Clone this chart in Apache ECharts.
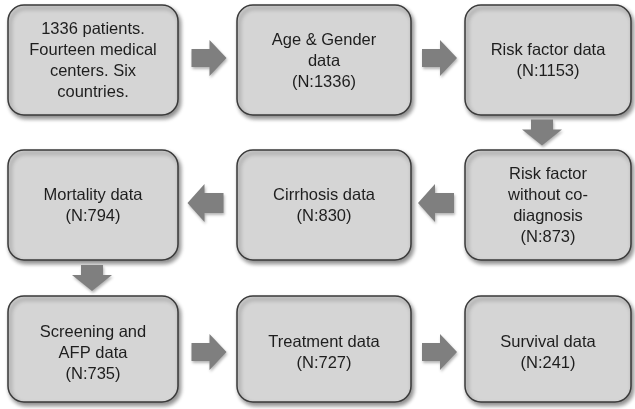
<!DOCTYPE html>
<head>
    <title>ECharts</title>
    <script src="https://cdn.jsdelivr.net/npm/echarts@6/dist/echarts.min.js"></script>
</head>
<body style="margin:0;background:#fff">
    <div id="main" style="width:635px;height:409px"></div>
    <script type="text/javascript">
        // box texts, in grid order (row, col)
        var boxTexts = [
            ['1336 patients.\nFourteen medical\ncenters. Six\ncountries.', 'Age & Gender\ndata\n(N:1336)', 'Risk factor data\n(N:1153)'],
            ['Mortality data\n(N:794)', 'Cirrhosis data\n(N:830)', 'Risk factor\nwithout co-\ndiagnosis\n(N:873)'],
            ['Screening and\nAFP data\n(N:735)', 'Treatment data\n(N:727)', 'Survival data\n(N:241)']
        ];
        // flow: [fromRow, fromCol, toRow, toCol]
        var flow = [
            [0, 0, 0, 1], [0, 1, 0, 2], [0, 2, 1, 2],
            [1, 2, 1, 1], [1, 1, 1, 0], [1, 0, 2, 0],
            [2, 0, 2, 1], [2, 1, 2, 2]
        ];

        var colX = [8, 237, 465], colW = [170, 174, 166];
        var rowY = [5, 150, 296], rowH = [110, 110, 106];
        var rowShift = [0, 0, 3];   // text sits a bit low in the last row

        var myChart = echarts.init(document.getElementById('main'));
        var elements = [];

        for (var r = 0; r < 3; r++) {
            for (var c = 0; c < 3; c++) {
                elements.push({
                    type: 'rect',
                    shape: {x: colX[c], y: rowY[r], width: colW[c], height: rowH[r], r: 16},
                    style: {
                        fill: '#d5d5d5', stroke: '#3a3a3a', lineWidth: 1.5,
                        shadowBlur: 4, shadowOffsetX: 2, shadowOffsetY: 3, shadowColor: 'rgba(0,0,0,0.45)'
                    }
                });
                elements.push({
                    type: 'text',
                    x: colX[c] + colW[c] / 2,
                    y: rowY[r] + rowH[r] / 2 + 1 + rowShift[r],
                    style: {
                        text: boxTexts[r][c], fill: '#1e1e1e',
                        font: '16.5px "Liberation Sans", Arial, sans-serif',
                        lineHeight: 21, align: 'center', verticalAlign: 'middle'
                    }
                });
            }
        }

        function arrowPoints(dir, cx, cy) {
            if (dir === 'right') {
                return [[cx - 17, cy - 9], [cx + 1, cy - 9], [cx + 1, cy - 18], [cx + 18, cy], [cx + 1, cy + 18], [cx + 1, cy + 9], [cx - 17, cy + 9]];
            }
            if (dir === 'left') {
                return [[cx + 18, cy - 10], [cx - 1, cy - 10], [cx - 1, cy - 19], [cx - 18, cy], [cx - 1, cy + 19], [cx - 1, cy + 10], [cx + 18, cy + 10]];
            }
            return [[cx - 11, cy - 13], [cx + 11, cy - 13], [cx + 11, cy - 3], [cx + 20, cy - 3], [cx, cy + 13], [cx - 20, cy - 3], [cx - 11, cy - 3]];
        }

        flow.forEach(function (f) {
            var dir, cx, cy;
            if (f[0] === f[2]) {
                var rr = f[0];
                cy = rowY[rr] + rowH[rr] / 2 - 2 + rowShift[rr] + (rr === 2 ? 2 : 0);
                var a = Math.min(f[1], f[3]), b = Math.max(f[1], f[3]);
                dir = f[3] > f[1] ? 'right' : 'left';
                cx = (colX[a] + colW[a] + colX[b]) / 2 + (dir === 'right' ? 1 : -2);
            } else {
                var cc = f[1];
                cx = colX[cc] + colW[cc] / 2 - 1 - (cc === 2 ? 5 : 0);
                cy = (rowY[f[0]] + rowH[f[0]] + rowY[f[2]]) / 2;
                dir = 'down';
            }
            elements.push({
                type: 'polygon',
                shape: {points: arrowPoints(dir, cx, cy)},
                style: {
                    fill: '#7f7f7f',
                    shadowBlur: 3, shadowOffsetX: 1, shadowOffsetY: 2, shadowColor: 'rgba(0,0,0,0.3)'
                }
            });
        });

        var option = {
            animation: false,
            graphic: {elements: elements}
        };

        myChart.setOption(option);
    </script>
</body>
